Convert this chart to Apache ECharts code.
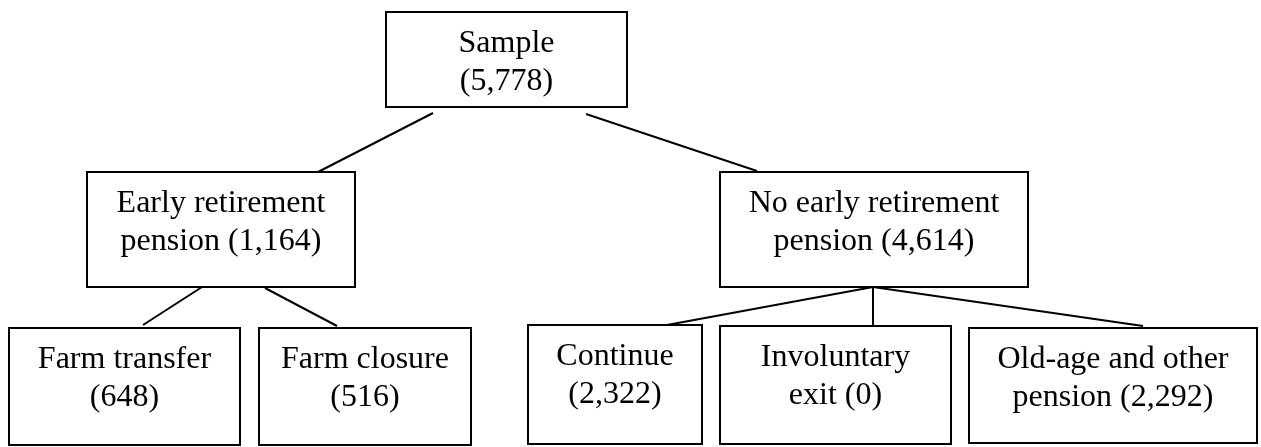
<!DOCTYPE html>
<html>
<head>
<meta charset="utf-8">
<script src="https://cdn.jsdelivr.net/npm/echarts@6/dist/echarts.min.js"></script>
<style>
  html, body { margin: 0; padding: 0; background: #fff; }
  #chart { width: 1261px; height: 447px; }
</style>
</head>
<body>
<div id="chart"></div>
<script>
// tree data
const nodeNames = ['Sample', 'Early retirement\npension', 'No early retirement\npension', 'Farm transfer', 'Farm closure', 'Continue', 'Involuntary\nexit', 'Old-age and other\npension'];
const nodeCounts = [5778, 1164, 4614, 648, 516, 2322, 0, 2292];
const nodeParents = [-1, 0, 0, 1, 1, 2, 2, 2];

// layout (pixel space of the picture): box [x0, y0, x1, y1]
const boxLayout = [
  [386, 12, 627, 107],
  [87, 172, 355, 287],
  [720, 172, 1028, 287],
  [9, 328, 240, 445],
  [259, 328, 471, 445],
  [528, 325, 702, 444],
  [720, 326, 951, 444],
  [969, 328, 1257, 443]
];
// connector for each child: [xFrom, yFrom, xTo, yTo]
const linkLayout = [
  null,
  [433, 113, 318, 172],
  [586, 114, 757, 171],
  [202, 287, 143, 325],
  [265, 288, 337, 326],
  [873, 287, 667, 325],
  [873, 287, 873, 326],
  [873, 287, 1143, 326]
];

const fmt = n => n.toLocaleString('en-US');
const labels = nodeNames.map((name, i) => {
  const sep = name.indexOf('\n') >= 0 ? ' ' : '\n';
  return name + sep + '(' + fmt(nodeCounts[i]) + ')';
});

const chart = echarts.init(document.getElementById('chart'));

const option = {
  animation: false,
  backgroundColor: '#fff',
  grid: {left: 0, right: 0, top: 0, bottom: 0},
  xAxis: {type: 'value', min: 0, max: 1261, show: false},
  yAxis: {type: 'value', min: 0, max: 447, inverse: true, show: false},
  series: [
    {
      type: 'custom',
      coordinateSystem: 'cartesian2d',
      data: nodeParents.map((p, i) => [i, p]).filter(d => d[1] >= 0),
      renderItem: (params, api) => {
        const l = linkLayout[api.value(0)];
        const a = api.coord([l[0], l[1]]);
        const b = api.coord([l[2], l[3]]);
        return {
          type: 'line',
          shape: {x1: a[0], y1: a[1], x2: b[0], y2: b[1]},
          style: {stroke: '#000', lineWidth: 2}
        };
      }
    },
    {
      type: 'custom',
      coordinateSystem: 'cartesian2d',
      data: nodeNames.map((n, i) => [i]),
      renderItem: (params, api) => {
        const i = api.value(0);
        const b = boxLayout[i];
        const p0 = api.coord([b[0], b[1]]);
        const p1 = api.coord([b[2], b[3]]);
        return {
          type: 'group',
          children: [
            {
              type: 'rect',
              shape: {x: p0[0], y: p0[1], width: p1[0] - p0[0], height: p1[1] - p0[1]},
              style: {fill: '#fff', stroke: '#000', lineWidth: 2}
            },
            {
              type: 'text',
              x: (p0[0] + p1[0]) / 2,
              y: p0[1] + 13,
              style: {
                text: labels[i],
                font: '32px "Liberation Serif", "Times New Roman", serif',
                fill: '#000',
                align: 'center',
                verticalAlign: 'top',
                lineHeight: 38
              }
            }
          ]
        };
      }
    }
  ]
};

chart.setOption(option);
</script>
</body>
</html>
